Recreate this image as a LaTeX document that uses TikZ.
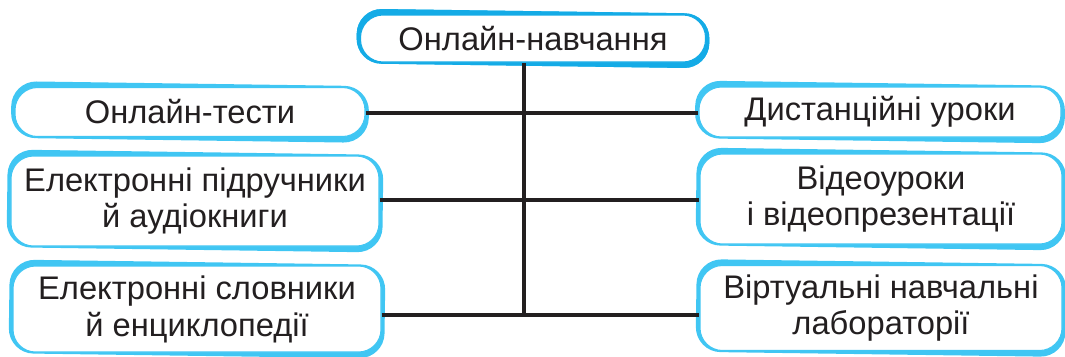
\documentclass[tikz,border=0pt]{standalone}
\usepackage{fontspec}
\setmainfont{Liberation Sans}
\usetikzlibrary{fit,backgrounds}
\definecolor{skyblue}{HTML}{40C6F3}
\definecolor{deepblue}{HTML}{14ABE6}
\definecolor{ink}{HTML}{231F20}
\tikzset{
  box/.style={rectangle, rounded corners=0.45cm, draw=skyblue, line width=0.6pt,
    fill=white, text=ink, align=center, inner sep=0pt,
    font=\fontsize{18.6}{21}\selectfont},
  backbox/.style={rectangle, rounded corners=0.5cm, fill=skyblue, draw=none,
    inner sep=1.9pt, rotate=-0.8},
  link/.style={draw=ink, line width=2pt}
}
\begin{document}
\begin{tikzpicture}
    \useasboundingbox (0,0) rectangle (21.3,-7.12);

    % Main topic
    \node[box, draw=deepblue, minimum width=6.9cm, minimum height=0.94cm] (top) at (10.66,-0.77) {Онлайн-навчання};

    % Left column
    \node[box, minimum width=7.0cm, minimum height=0.98cm] (l1) at (3.8,-2.24) {Онлайн-тести};
    \node[box, minimum width=7.36cm, minimum height=1.8cm] (l2) at (3.9,-4.02) {Електронні підручники\\й аудіокниги};
    \node[box, minimum width=7.36cm, minimum height=1.72cm] (l3) at (3.94,-6.18) {Електронні словники\\й енциклопедії};

    % Right column
    \node[box, minimum width=7.24cm, minimum height=1.0cm] (r1) at (17.6,-2.24) {Дистанційні уроки};
    \node[box, minimum width=7.24cm, minimum height=1.8cm] (r2) at (17.62,-3.98) {Відеоуроки\\і відеопрезентації};
    \node[box, minimum width=7.24cm, minimum height=1.7cm] (r3) at (17.62,-6.16) {Віртуальні навчальні\\лабораторії};

    % Blue brush edges behind the boxes
    \begin{scope}[on background layer]
        \foreach \n in {top,l1,l2,l3,r1,r2,r3}
            \node[backbox, fit=(\n)] {};
        \node[backbox, fill=deepblue, fit=(top)] {};
    \end{scope}

    % Trunk and branches
    \coordinate (t0) at (10.48,-1.26);
    \coordinate (t3) at (10.48,-6.3);
    \draw[link] (t0) -- (t3);
    \draw[link] (l1.east |- 0,-2.26) -- (r1.west |- 0,-2.26);
    \draw[link] (l2.east |- 0,-4.0) -- (r2.west |- 0,-4.0);
    \draw[link] (l3.east |- t3) -- (r3.west |- t3);
\end{tikzpicture}
\end{document}
